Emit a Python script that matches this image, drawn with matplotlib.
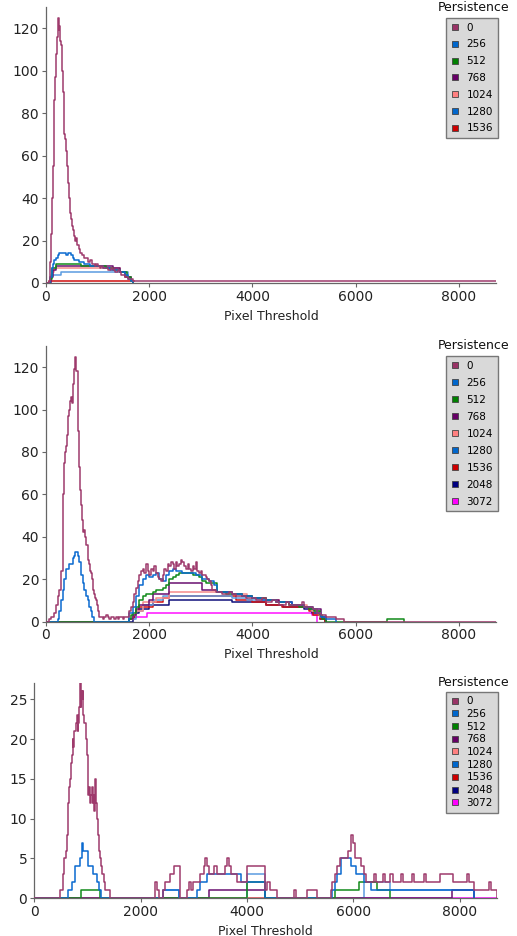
import matplotlib
matplotlib.use("Agg")
import matplotlib.pyplot as plt
from matplotlib.lines import Line2D

plt.rcParams['font.family'] = ['DejaVu Sans']

# persistence levels shown in each legend
persist_top = ["0", "256", "512", "768", "1024", "1280", "1536"]
persist_all = ["0", "256", "512", "768", "1024", "1280", "1536", "2048", "3072"]

line_colors = {"0": "#9e3a6c", "256": "#0a6ad0", "512": "#118a1a", "768": "#6a1070",
               "1024": "#f58a8a", "1280": "#5b9be0", "1536": "#d01010",
               "2048": "#10107a", "3072": "#ff10ff"}
key_colors = {"0": "#993366", "256": "#0066cc", "512": "#008000", "768": "#660066",
              "1024": "#ff8080", "1280": "#0066cc", "1536": "#cc0000",
              "2048": "#000080", "3072": "#ff00ff"}

# ---- top panel: (pixel threshold, count) step points
top_0 = [(0, 0), (65, 1), (80, 10), (97, 23), (113, 40), (130, 55), (146, 72), (162, 86),
         (178, 97), (195, 108), (211, 116), (227, 125), (244, 119), (260, 121), (276, 114),
         (292, 112), (308, 100), (325, 90), (341, 78), (357, 70), (373, 68), (390, 62),
         (406, 55), (422, 47), (438, 43), (455, 40), (471, 33), (487, 30), (503, 27),
         (519, 25), (536, 23), (552, 22), (568, 20), (584, 21), (600, 18), (617, 18),
         (633, 16), (649, 16), (665, 14), (681, 14), (697, 13), (714, 13), (746, 12),
         (779, 12), (811, 10), (844, 10), (860, 11), (876, 11), (892, 9), (909, 9),
         (941, 8), (974, 9), (1006, 8), (1039, 7), (1071, 8), (1104, 7), (1169, 7),
         (1201, 6), (1234, 6), (1266, 7), (1299, 6), (1331, 5), (1364, 5), (1396, 6),
         (1429, 5), (1461, 4), (1494, 4), (1526, 3), (1558, 3), (1590, 2), (1623, 2),
         (1688, 1), (8720, 1)]
top_256 = [(0, 0), (78, 3), (110, 7), (130, 9), (162, 11), (195, 12), (227, 13), (260, 14),
           (325, 14), (390, 13), (422, 14), (487, 13), (520, 12), (552, 11), (649, 10),
           (746, 9), (844, 8), (974, 8), (1104, 7), (1234, 6), (1364, 6), (1429, 5),
           (1526, 4), (1590, 2), (1656, 1), (1690, 0), (1690, 0)]
top_512 = [(0, 0), (78, 2), (110, 7), (195, 9), (487, 9), (681, 8), (1039, 8), (1169, 7),
           (1299, 6), (1429, 5), (1560, 3), (1656, 1), (1690, 0), (1690, 0)]
top_768 = [(0, 0), (97, 3), (130, 6), (195, 8), (1234, 8), (1299, 7), (1429, 5), (1526, 3),
           (1656, 1), (1690, 0), (1690, 0)]
top_1024 = [(0, 0), (78, 3), (110, 5), (162, 7), (1364, 7), (1429, 5), (1526, 3), (1656, 1),
            (1690, 0), (1690, 0)]
top_1280 = [(0, 0), (78, 2), (97, 4), (292, 5), (1558, 5), (1590, 3), (1656, 1), (1690, 0),
            (1690, 0)]
top_1536 = [(0, 0), (65, 1), (1700, 1)]

# ---- middle panel
mid_0 = [(0, 0), (65, 1), (100, 2), (161, 4), (194, 8), (226, 12), (258, 15), (290, 24),
         (323, 43), (339, 60), (355, 75), (371, 80), (387, 83), (403, 88), (419, 90),
         (435, 97), (452, 100), (468, 104), (484, 106), (500, 103), (516, 109),
         (532, 112), (548, 119), (568, 125), (590, 118), (613, 114), (629, 90), (645, 73),
         (661, 62), (677, 55), (693, 48), (710, 45), (726, 42), (742, 43), (761, 40),
         (783, 36), (806, 32), (822, 29), (839, 27), (855, 24), (871, 23), (887, 20),
         (903, 18), (919, 15), (935, 13), (952, 11), (968, 10), (984, 8), (1000, 7),
         (1016, 5), (1032, 2), (1065, 2), (1097, 1), (1129, 2), (1161, 3), (1194, 2),
         (1226, 1), (1258, 2), (1290, 2), (1323, 1), (1355, 2), (1387, 1), (1419, 2),
         (1484, 1), (1516, 2), (1548, 2), (1613, 5), (1645, 7), (1677, 9), (1710, 13),
         (1742, 16), (1774, 19), (1806, 22), (1839, 24), (1871, 25), (1903, 23),
         (1935, 27), (1968, 24), (2000, 22), (2032, 25), (2065, 24), (2097, 26),
         (2129, 23), (2161, 21), (2194, 20), (2226, 19), (2258, 22), (2290, 25),
         (2323, 24), (2355, 27), (2387, 26), (2419, 28), (2452, 27), (2484, 25),
         (2516, 28), (2548, 26), (2581, 27), (2613, 29), (2645, 28), (2677, 26),
         (2710, 25), (2742, 27), (2774, 25), (2806, 24), (2839, 26), (2871, 25),
         (2903, 28), (2935, 24), (2968, 23), (3000, 24), (3032, 22), (3065, 22),
         (3097, 21), (3129, 20), (3161, 19), (3194, 17), (3226, 15), (3258, 15),
         (3290, 14), (3355, 14), (3420, 13), (3484, 13), (3548, 14), (3613, 13),
         (3677, 12), (3742, 12), (3806, 12), (3871, 11), (3935, 11), (4000, 11),
         (4065, 10), (4129, 10), (4194, 11), (4258, 9), (4323, 9), (4387, 10),
         (4452, 9), (4516, 8), (4581, 8), (4645, 9), (4710, 8), (4774, 8), (4903, 8),
         (4968, 9), (5000, 7), (5100, 7), (5180, 6), (5260, 4), (5330, 3), (5420, 2),
         (5620, 1), (5780, 0), (8720, 0)]
mid_256 = [(0, 0), (226, 1), (258, 5), (290, 10), (323, 15), (355, 20), (387, 25),
           (452, 27), (516, 30), (548, 31), (568, 33), (613, 31), (645, 28), (677, 22),
           (710, 18), (742, 15), (774, 12), (806, 10), (839, 7), (871, 5), (897, 2),
           (923, 0), (1613, 4), (1677, 7), (1742, 12), (1806, 17), (1871, 20), (1935, 22),
           (2000, 21), (2065, 22), (2129, 23), (2194, 20), (2258, 19), (2323, 22),
           (2387, 24), (2452, 25), (2516, 24), (2645, 23), (2774, 23), (2903, 22),
           (3032, 20), (3161, 19), (3258, 17), (3323, 14), (3600, 13), (3806, 12),
           (4000, 11), (4194, 10), (4452, 9), (4774, 8), (5000, 7), (5180, 6),
           (5260, 4), (5330, 2), (5420, 1), (5620, 0), (5620, 0)]
mid_512 = [(0, 0), (1613, 1), (1645, 3), (1677, 4), (1742, 7), (1806, 10), (1871, 12),
           (1935, 13), (2065, 14), (2129, 15), (2258, 16), (2323, 17), (2387, 20),
           (2452, 21), (2516, 22), (2581, 23), (2710, 23), (2839, 22), (2968, 21),
           (3032, 19), (3097, 18), (3290, 18), (3323, 14), (3484, 13), (3806, 12),
           (4000, 11), (4258, 10), (4452, 9), (4710, 8), (4900, 7), (5100, 6),
           (5200, 5), (5300, 3), (5350, 1), (5420, 0), (6610, 1), (6930, 0), (6930, 0)]
mid_768 = [(0, 0), (1613, 1), (1677, 3), (1742, 6), (1806, 8), (2000, 10), (2065, 13),
           (2323, 13), (2387, 18), (2968, 18), (3032, 15), (3290, 15), (3323, 14),
           (3613, 13), (3806, 12), (4000, 11), (4258, 10), (4516, 9), (4774, 8),
           (5000, 7), (5150, 6), (5330, 2), (5420, 0), (5420, 0)]
mid_1024 = [(0, 0), (1613, 1), (1677, 3), (1742, 5), (1871, 9), (2129, 11), (2387, 14),
            (3550, 14), (3613, 13), (3900, 12), (4000, 11), (4258, 10), (4516, 9),
            (4774, 8), (5050, 7), (5150, 5), (5300, 2), (5420, 0), (5420, 0)]
mid_1280 = [(0, 0), (1613, 1), (1742, 5), (1871, 8), (2065, 10), (2258, 12), (3420, 12),
            (3613, 11), (3900, 10), (4452, 9), (4710, 8), (5000, 7), (5150, 5),
            (5300, 2), (5420, 0), (5420, 0)]
mid_1536 = [(0, 0), (1613, 1), (1677, 2), (1742, 5), (1806, 7), (2065, 9), (2258, 11),
            (2387, 12), (3613, 12), (3677, 10), (4000, 9), (4258, 8), (4580, 7),
            (5100, 5), (5180, 3), (5300, 1), (5400, 0), (5400, 0)]
mid_2048 = [(0, 0), (1677, 2), (1742, 4), (1806, 6), (2000, 8), (2387, 10), (3550, 10),
            (3613, 9), (4258, 8), (4600, 7), (5000, 6), (5150, 4), (5300, 1), (5400, 0),
            (5400, 0)]
mid_3072 = [(0, 0), (1613, 1), (1710, 2), (1950, 4), (5100, 4), (5160, 3), (5260, 0),
            (5260, 0)]

# ---- bottom panel
bot_0 = [(0, 0), (484, 1), (535, 3), (560, 5), (591, 6), (610, 8), (626, 10), (642, 12),
         (658, 14), (673, 15), (689, 17), (704, 18), (720, 20), (736, 19), (752, 21),
         (767, 21), (783, 22), (799, 23), (814, 21), (830, 22), (846, 24), (862, 27),
         (872, 24), (880, 26), (893, 25), (909, 26), (925, 23), (940, 22), (956, 22),
         (972, 20), (987, 18), (1003, 16), (1019, 13), (1035, 14), (1050, 12), (1066, 13),
         (1082, 14), (1098, 12), (1113, 13), (1129, 11), (1145, 15), (1160, 12),
         (1176, 10), (1192, 8), (1208, 7), (1223, 6), (1239, 5), (1255, 4), (1270, 3),
         (1302, 2), (1333, 1), (1415, 0), (2264, 2), (2300, 1), (2340, 0), (2415, 1),
         (2450, 2), (2510, 2), (2560, 3), (2623, 4), (2736, 0), (2874, 1), (2906, 2),
         (2950, 1), (2990, 2), (3063, 2), (3126, 3), (3189, 4), (3220, 5), (3252, 4),
         (3283, 3), (3377, 4), (3440, 3), (3500, 3), (3580, 4), (3629, 5), (3660, 4),
         (3692, 3), (3755, 3), (3818, 2), (3880, 2), (4006, 4), (4321, 4), (4340, 1),
         (4384, 2), (4440, 1), (4478, 1), (4572, 0), (4880, 1), (4915, 0), (5133, 1),
         (5323, 0), (5576, 1), (5608, 2), (5658, 3), (5703, 4), (5747, 5), (5850, 5),
         (5911, 6), (5956, 8), (5987, 7), (6038, 5), (6146, 4), (6209, 3), (6240, 2),
         (6400, 3), (6430, 2), (6557, 3), (6589, 2), (6700, 3), (6750, 2), (6900, 3),
         (6940, 2), (7100, 3), (7140, 2), (7330, 3), (7360, 2), (7640, 3), (7870, 2),
         (8150, 3), (8180, 2), (8266, 1), (8560, 2), (8590, 1), (8705, 0)]
bot_256 = [(0, 0), (642, 1), (704, 2), (767, 4), (862, 5), (900, 7), (925, 6), (1019, 4),
           (1113, 3), (1176, 2), (1226, 1), (1252, 0), (2415, 1), (2717, 0), (3063, 1),
           (3113, 2), (3252, 3), (3849, 3), (3880, 2), (4320, 2), (4340, 0), (5608, 1),
           (5658, 2), (5703, 3), (5766, 5), (5956, 4), (6050, 3), (6209, 2), (6335, 1),
           (6684, 1), (8266, 0), (8266, 0)]
bot_512 = [(0, 0), (880, 1), (1239, 0), (4006, 2), (4321, 2), (4340, 0), (5658, 1),
           (6114, 2), (6450, 1), (6684, 0), (6684, 0)]
bot_768 = [(0, 0), (3283, 1), (4321, 1), (4340, 0), (7855, 1), (8266, 0), (8266, 0)]
bot_1024 = [(0, 0), (5658, 0), (6114, 0)]
bot_1280 = [(0, 0), (2415, 1), (2717, 0), (4006, 3), (4321, 3), (4340, 0), (6209, 2),
            (6684, 1), (8266, 1), (8280, 0), (8280, 0)]
bot_1536 = [(0, 0), (6114, 0)]
bot_2048 = [(0, 0), (6114, 0)]
bot_3072 = [(6114, 0), (8705, 0)]

panels = [
    dict(series=dict(zip(persist_top, [top_0, top_256, top_512, top_768, top_1024,
                                       top_1280, top_1536])),
         keys=persist_top, rect=[46, 7, 496, 283], xmax=8720, ymax=130,
         yticks=range(0, 121, 20), leg=(446, 18), title_y=7.5, lspace=0.65),
    dict(series=dict(zip(persist_all, [mid_0, mid_256, mid_512, mid_768, mid_1024,
                                       mid_1280, mid_1536, mid_2048, mid_3072])),
         keys=persist_all, rect=[46, 346, 496, 621.5], xmax=8720, ymax=130,
         yticks=range(0, 121, 20), leg=(446, 356), title_y=345.5, lspace=0.67),
    dict(series=dict(zip(persist_all, [bot_0, bot_256, bot_512, bot_768, bot_1024,
                                       bot_1280, bot_1536, bot_2048, bot_3072])),
         keys=persist_all, rect=[34.3, 683.3, 497, 898.3], xmax=8705, ymax=27,
         yticks=range(0, 26, 5), leg=(446, 691.5), title_y=683, lspace=0.26),
]

W, H = 517, 936
fig = plt.figure(figsize=(W / 100, H / 100), dpi=100)

for p in panels:
    x0, y0, x1, y1 = p["rect"]
    ax = fig.add_axes([x0 / W, 1 - y1 / H, (x1 - x0) / W, (y1 - y0) / H])
    for k in reversed(p["keys"]):
        pts = p["series"][k]
        xs = [a for a, b in pts]
        ys = [b for a, b in pts]
        ax.step(xs, ys, where="post", color=line_colors[k], lw=1.1,
                zorder=3 if k == "0" else 2)
    ax.set_xlim(0, p["xmax"])
    ax.set_ylim(0, p["ymax"])
    ax.set_xticks(range(0, 8001, 2000))
    ax.set_yticks(list(p["yticks"]))
    for s in ["top", "right"]:
        ax.spines[s].set_visible(False)
    for s in ["left", "bottom"]:
        ax.spines[s].set_color("#666666")
        ax.spines[s].set_linewidth(0.9)
    ax.tick_params(direction="out", length=3, width=0.8, color="#666666",
                   labelsize=10, labelcolor="#222222", pad=2)
    ax.set_xlabel("Pixel Threshold", fontsize=9, color="#222222", labelpad=4)

    handles = [Line2D([], [], ls="none", marker="s", ms=5, mfc=key_colors[k],
                      mec="#444444", mew=0.6) for k in p["keys"]]
    lx, ly = p["leg"]
    ax.legend(handles, p["keys"], loc="upper left",
              bbox_to_anchor=(lx / W, 1 - ly / H), bbox_transform=fig.transFigure,
              frameon=True, fancybox=False, facecolor="#d9d9d9", edgecolor="#777777",
              framealpha=1, fontsize=7.5, handlelength=0.8, handletextpad=0.7,
              labelspacing=p["lspace"], borderpad=0.45, borderaxespad=0)
    fig.text(474 / W, 1 - p["title_y"] / H, "Persistence", ha="center", va="center",
             fontsize=9, color="#111111")

fig.savefig("out.png", dpi=100)
